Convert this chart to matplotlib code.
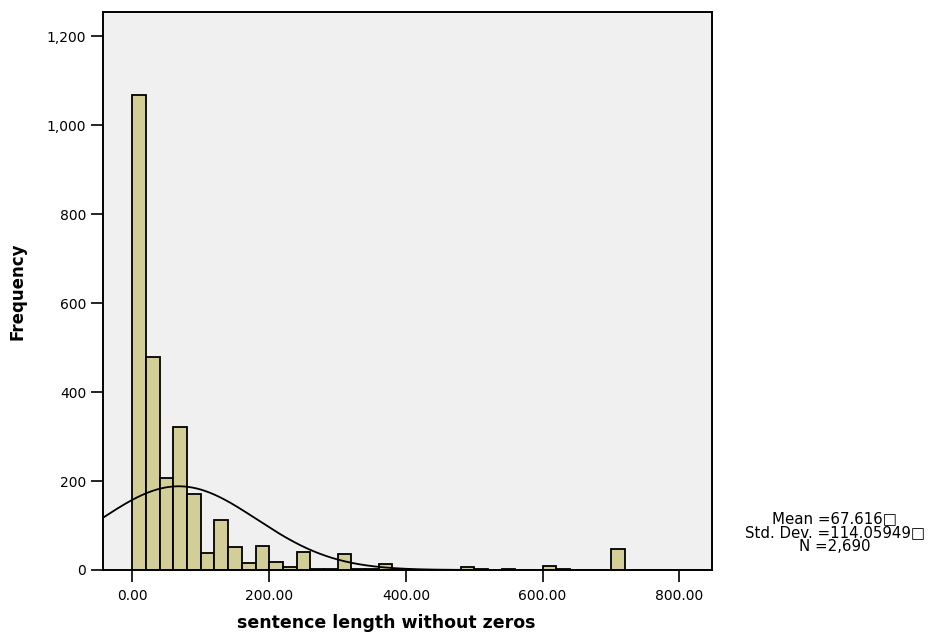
import numpy as np
import matplotlib
matplotlib.use("Agg")
import matplotlib.pyplot as plt
from matplotlib.ticker import FuncFormatter, MultipleLocator

plt.rcParams['font.family'] = ['DejaVu Sans']

# Histogram data (bin width 20, starting at 0)
bin_width = 20
bin_starts = [0, 20, 40, 60, 80, 100, 120, 140, 160, 180,
              200, 220, 240, 260, 280, 300, 320, 340, 360, 380,
              400, 420, 440, 460, 480, 500, 520, 540, 560, 580,
              600, 620, 640, 660, 680, 700]
counts = [1067, 478, 206, 321, 170, 39, 112, 51, 16, 54,
          19, 7, 40, 2, 3, 35, 2, 2, 13, 1,
          1, 1, 0, 1, 7, 2, 0, 2, 0, 0,
          10, 2, 0, 0, 0, 47]

mean_val = 67.616
std_val = 114.05949
n_val = 2690

fig = plt.figure(figsize=(9.37, 6.39), dpi=100)
ax = fig.add_axes([0.110, 0.108, 0.650, 0.873])
ax.set_facecolor('#F0F0F0')

starts = np.array(bin_starts, dtype=float)
heights = np.array(counts, dtype=float)
mask = heights > 0
ax.bar(starts[mask], heights[mask], width=bin_width, align='edge',
       color='#D3CE98', edgecolor='black', linewidth=1.3, zorder=2)

xmin, xmax = -43, 848
xs = np.linspace(xmin, xmax, 600)
ys = n_val * bin_width / (std_val * np.sqrt(2 * np.pi)) * np.exp(-0.5 * ((xs - mean_val) / std_val) ** 2)
ax.plot(xs, ys, color='black', linewidth=1.3, zorder=3)

ax.set_xlim(xmin, xmax)
ax.set_ylim(0, 1254)
ax.xaxis.set_major_locator(MultipleLocator(200))
ax.yaxis.set_major_locator(MultipleLocator(200))
ax.xaxis.set_major_formatter(FuncFormatter(lambda v, p: f"{v:.2f}"))
ax.yaxis.set_major_formatter(FuncFormatter(lambda v, p: f"{int(round(v)):,}"))
ax.tick_params(axis='both', direction='out', length=8.6, width=1.2, labelsize=10, colors='black')
ax.tick_params(axis='y', pad=3.6)
ax.tick_params(axis='x', pad=5)
ax.tick_params(top=False, right=False)
for s in ax.spines.values():
    s.set_linewidth(1.4)
    s.set_color('black')

ax.set_xlabel('sentence length without zeros', fontsize=12.5, fontweight='bold')
ax.set_ylabel('Frequency', fontsize=12, fontweight='bold')
ax.xaxis.set_label_coords(0.4655, -0.095)
ax.xaxis.label.set_va('center')
ax.yaxis.set_label_coords(-0.140, 0.5)
ax.yaxis.label.set_va('center')

fig.text(0.891, 0.166, "Mean =67.616\u25a1\nStd. Dev. =114.05949\u25a1\nN =2,690",
         ha='center', va='center', fontsize=10.8, linespacing=0.9)

fig.savefig('out.png', dpi=100)
